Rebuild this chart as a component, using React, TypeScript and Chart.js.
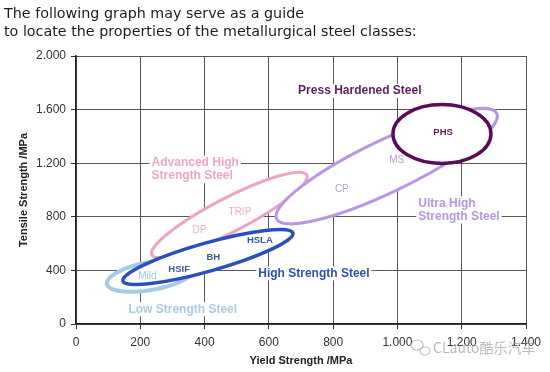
import React, { useEffect, useRef } from 'react';
import { Chart, registerables } from 'chart.js';

Chart.register(...registerables);

// ---------- data ----------
const titleLines = [
  'The following graph may serve as a guide',
  'to locate the properties of the metallurgical steel classes:',
];
const xAxisTitle = 'Yield Strength /MPa';
const yAxisTitle = 'Tensile Strength /MPa';

const xTickValues = [0, 200, 400, 600, 800, 1000, 1200, 1400];
const xTickLabels = ['0', '200', '400', '600', '800', '1.000', '1.200', '1.400'];
const yTickValues = [0, 400, 800, 1200, 1600, 2000];
const yTickLabels = ['0', '400', '800', '1.200', '1.600', '2.000'];

// steel-class regions: ellipses given by the two ends of their long axis (MPa)
const steelClasses = ['Low Strength Steel', 'High Strength Steel', 'Advanced High Strength Steel', 'Ultra High Strength Steel', 'Press Hardened Steel'];
const yieldFrom = [96, 146, 236, 624, 986];
const tensileFrom = [299, 321, 515, 784, 1418];
const yieldTo = [370, 675, 718, 1309, 1291];
const tensileTo = [418, 679, 1112, 1572, 1418];
const widthRatio = [0.31, 0.16, 0.195, 0.213, 0.6];

// class captions (left edge, first line), in MPa
const classCaptions = [['Low Strength Steel'], ['High Strength Steel'], ['Advanced High', 'Strength Steel'], ['Ultra High', 'Strength Steel'], ['Press Hardened Steel']];
const captionYield = [163, 567, 235, 1065, 691];
const captionTensile = [110, 378, 1204, 901, 1741];

// grade labels inside the regions, centred, in MPa
const grades = ['Mild', 'HSIF', 'BH', 'HSLA', 'DP', 'TRIP', 'CP', 'MS', 'PHS'];
const gradeYield = [222, 321, 427, 572, 384, 510, 827, 998, 1142];
const gradeTensile = [358, 408, 498, 622, 696, 831, 1005, 1219, 1428];

const watermark = 'CLauto酷乐汽车';

// ---------- styles ----------
const drawOrder = [0, 2, 1, 3, 4];
const strokeColors = ['#a3cbe8', '#2a50bf', '#eda3c4', '#b995e6', '#5c0b58'];
const strokeWidths = [4, 3.5, 3, 3, 3.5];
const captionColors = ['#a8cce6', '#2f52ae', '#eea6c6', '#b797e1', '#5e1c62'];
const gradeColors = ['#9fc5e3', '#3a5898', '#3a5898', '#3a5898', '#f0abc8', '#f0abc8', '#b8a0dc', '#b8a0dc', '#5e2060'];
const gradeBold = [false, true, true, true, false, false, false, false, true];
const SANS = '"Liberation Sans", Arial, sans-serif';

const steelPlugin = {
  id: 'steelClasses',
  afterDatasetsDraw(chart: any) {
    const { ctx, scales } = chart;
    const xs = scales.x;
    const ys = scales.y;
    ctx.save();
    drawOrder.forEach((i) => {
      const x1 = xs.getPixelForValue(yieldFrom[i]);
      const y1 = ys.getPixelForValue(tensileFrom[i]);
      const x2 = xs.getPixelForValue(yieldTo[i]);
      const y2 = ys.getPixelForValue(tensileTo[i]);
      const cx = (x1 + x2) / 2;
      const cy = (y1 + y2) / 2;
      const a = Math.hypot(x2 - x1, y2 - y1) / 2;
      const b = a * widthRatio[i];
      const ang = Math.atan2(y2 - y1, x2 - x1);
      ctx.beginPath();
      ctx.ellipse(cx, cy, a, b, ang, 0, Math.PI * 2);
      ctx.fillStyle = '#ffffff';
      ctx.fill();
      ctx.lineWidth = strokeWidths[i];
      ctx.strokeStyle = strokeColors[i];
      ctx.stroke();
    });

    // grade labels
    ctx.textAlign = 'center';
    ctx.textBaseline = 'middle';
    grades.forEach((g, i) => {
      ctx.font = `${gradeBold[i] ? 'bold ' : ''}${gradeBold[i] ? 9.5 : 10}px ${SANS}`;
      ctx.fillStyle = gradeColors[i];
      ctx.fillText(g, xs.getPixelForValue(gradeYield[i]), ys.getPixelForValue(gradeTensile[i]));
    });

    // class captions with white backing
    ctx.textAlign = 'left';
    ctx.font = `bold 12px ${SANS}`;
    classCaptions.forEach((lines, i) => {
      const lx = xs.getPixelForValue(captionYield[i]);
      const ly = ys.getPixelForValue(captionTensile[i]);
      lines.forEach((line, k) => {
        const yy = ly + k * 13.5;
        const w = ctx.measureText(line).width;
        ctx.fillStyle = '#ffffff';
        ctx.fillRect(lx - 2, yy - 7, w + 4, 14);
        ctx.fillStyle = captionColors[i];
        ctx.fillText(line, lx, yy);
      });
    });
    ctx.restore();
  },
  afterDraw(chart: any) {
    const { ctx } = chart;
    ctx.save();
    // small chat-bubble icon of the watermark
    ctx.strokeStyle = 'rgba(150,150,150,0.6)';
    ctx.lineWidth = 1.2;
    ctx.beginPath();
    ctx.ellipse(417, 345, 6, 5, 0, 0, Math.PI * 2);
    ctx.stroke();
    ctx.beginPath();
    ctx.ellipse(425, 351, 5, 4, 0, 0, Math.PI * 2);
    ctx.stroke();
    ctx.font = '14px "Noto Sans CJK SC", sans-serif';
    ctx.fillStyle = 'rgba(130,130,130,0.55)';
    ctx.textAlign = 'left';
    ctx.textBaseline = 'middle';
    ctx.fillText(watermark, 433, 348);
    ctx.restore();
  },
};

export default function App() {
  const canvasRef = useRef<HTMLCanvasElement | null>(null);

  useEffect(() => {
    const canvas = canvasRef.current;
    if (!canvas) return;
    const chart = new Chart(canvas, {
      type: 'scatter',
      data: { datasets: [] },
      options: {
        animation: false,
        responsive: false,
        maintainAspectRatio: false,
        layout: { padding: { top: 56, right: 24, left: 0, bottom: 0 } },
        plugins: { legend: { display: false }, tooltip: { enabled: false }, title: { display: false } },
        scales: {
          x: {
            type: 'linear',
            min: 0,
            max: 1400,
            afterBuildTicks: (s: any) => {
              s.ticks = xTickValues.map((v) => ({ value: v }));
            },
            afterFit: (s: any) => {
              s.height = 48;
            },
            ticks: {
              callback: (v: any) => xTickLabels[xTickValues.indexOf(Number(v))] ?? '',
              color: '#333',
              font: { family: SANS, size: 12 },
              padding: 6,
              maxRotation: 0,
            },
            grid: { color: 'rgba(70,70,70,0.9)', lineWidth: 1, tickLength: 5, tickColor: '#333' },
            border: { display: true, color: '#222', width: 1.5 },
            title: {
              display: true,
              text: xAxisTitle,
              color: '#222',
              font: { family: SANS, size: 11, weight: 'bold' },
              padding: { top: 0, bottom: 4 },
            },
          },
          y: {
            type: 'linear',
            min: 0,
            max: 2000,
            afterBuildTicks: (s: any) => {
              s.ticks = yTickValues.map((v) => ({ value: v }));
            },
            afterFit: (s: any) => {
              s.width = 76;
            },
            ticks: {
              callback: (v: any) => yTickLabels[yTickValues.indexOf(Number(v))] ?? '',
              color: '#333',
              font: { family: SANS, size: 12 },
              padding: 5,
            },
            grid: { color: 'rgba(70,70,70,0.9)', lineWidth: 1, tickLength: 5, tickColor: '#333' },
            border: { display: true, color: '#222', width: 1.5 },
            title: {
              display: true,
              text: yAxisTitle,
              color: '#222',
              font: { family: SANS, size: 11, weight: 'bold' },
              padding: { top: 17, bottom: 0 },
            },
          },
        },
      },
      plugins: [steelPlugin],
    } as any);
    return () => chart.destroy();
  }, []);

  return (
    <div style={{ position: 'absolute', left: 0, top: 0, width: 550, height: 372, background: '#fff', overflow: 'hidden' }}>
      <canvas ref={canvasRef} width={550} height={372} style={{ position: 'absolute', left: 0, top: 0, width: 550, height: 372 }} />
      <div
        style={{
          position: 'absolute',
          left: 4,
          top: 4.3,
          fontFamily: '"DejaVu Sans", sans-serif',
          fontSize: 14.3,
          lineHeight: '18px',
          color: '#1c1c1c',
          whiteSpace: 'nowrap',
        }}
      >
        {titleLines.map((t, i) => (
          <div key={i}>{t}</div>
        ))}
      </div>
    </div>
  );
}
